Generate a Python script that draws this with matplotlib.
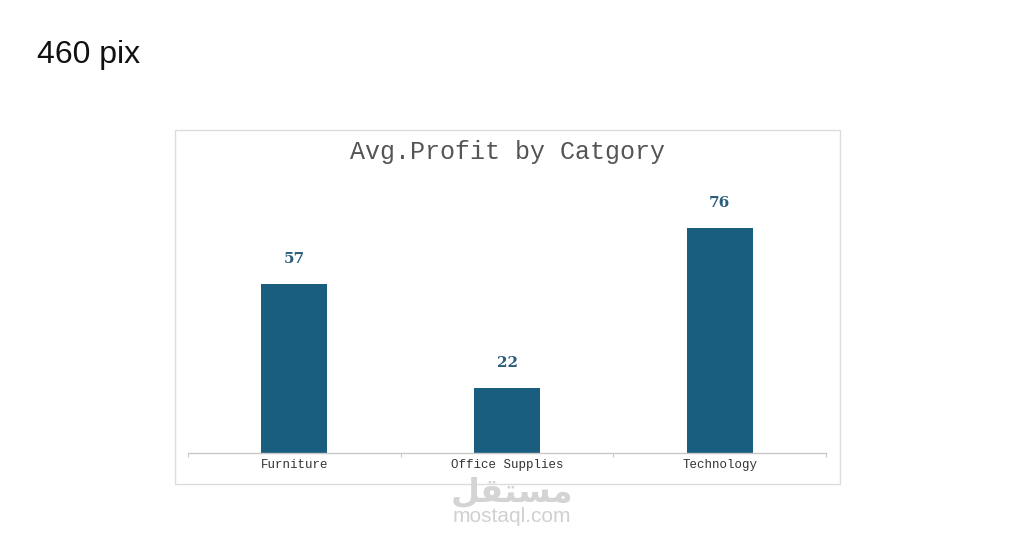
import matplotlib
matplotlib.use("Agg")
import matplotlib.pyplot as plt
from matplotlib.patches import Rectangle

categories = ["Furniture", "Office Supplies", "Technology"]
avg_profit = [57, 22, 76]
title_text = "Avg.Profit by Catgory"
note_text = "460 pix"
mark_ar = "\ufede\ufed8\ufe98\ufeb4\ufee3"  # مستقل, laid out left to right
mark_en = "mostaql.com"

BAR_COLOR = "#1a5e7f"
LABEL_COLOR = "#2b5d7c"

fig = plt.figure(figsize=(10.24, 5.35), dpi=100)
fig.patch.set_facecolor("white")

# frame round the chart
fig.patches.append(Rectangle((175 / 1024, 1 - 484 / 535), 665 / 1024, 354 / 535,
                             transform=fig.transFigure, fill=False,
                             edgecolor="#dcdcdc", linewidth=1.0))

ax = fig.add_axes([188 / 1024, 1 - 453 / 535, 638 / 1024, 253 / 535])
x = range(len(categories))
bars = ax.bar(x, avg_profit, width=0.31, color=BAR_COLOR)

ax.set_xlim(-0.5, len(categories) - 0.5)
ax.set_ylim(0, 253 / 2.96)

for b, v in zip(bars, avg_profit):
    ax.annotate(f"{v}", (b.get_x() + b.get_width() / 2, v), xytext=(0, 18),
                textcoords="offset points", ha="center", va="center",
                fontsize=11, fontweight="bold", family="DejaVu Serif",
                color=LABEL_COLOR)

for s in ["top", "right", "left"]:
    ax.spines[s].set_visible(False)
ax.spines["bottom"].set_color("#c8c8c8")
ax.spines["bottom"].set_linewidth(1.0)
ax.set_yticks([])
ax.set_xticks([i - 0.5 for i in range(len(categories) + 1)], minor=False)
ax.set_xticklabels([])
ax.tick_params(axis="x", which="major", length=3, color="#c8c8c8")
ax.set_xticks(list(x), minor=True)
ax.set_xticklabels(categories, minor=True, family="Liberation Mono",
                   fontsize=9, color="#333333")
ax.tick_params(axis="x", which="minor", length=0, pad=4)

fig.text(507 / 1024, 1 - 152 / 535, title_text, ha="center", va="center",
         family="Liberation Mono", fontsize=18, color="#555555")
fig.text(37 / 1024, 1 - 55 / 535, note_text, ha="left", va="center",
         family="Liberation Sans", fontsize=23, color="#111111")

fig.text(512 / 1024, 1 - 492 / 535, mark_ar, ha="center", va="center",
         family="DejaVu Sans", fontsize=24, fontweight="bold", color="#d4d4d4")
fig.text(512 / 1024, 1 - 516 / 535, mark_en, ha="center", va="center",
         family="Liberation Sans", fontsize=15, color="#d0d0d0")

fig.savefig("out.png", dpi=100, facecolor="white")
